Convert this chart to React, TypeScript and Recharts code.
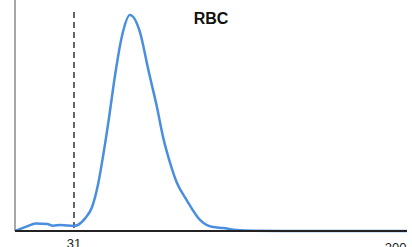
import React from 'react';
import { LineChart, Line, XAxis, YAxis, ReferenceLine } from 'recharts';

const sizes = [0, 6, 11, 17, 20, 24, 31, 33, 37, 40.5, 43.6, 46.2, 49.4, 52.5, 56.1, 60.4, 65.7, 70, 74.5, 78, 81.5, 85, 90.2, 97.2, 104, 109.3, 116.5, 125, 150, 180, 206];
const counts = [0, 1.9, 3.3, 3.0, 2.3, 2.6, 2.2, 2.6, 5.6, 10.4, 20, 32, 49, 67, 84, 93.5, 86, 70, 54, 40, 29.5, 21, 13.4, 4.8, 1.7, 1.3, 0.4, 0.1, 0, 0, 0];
const xTicks = [31, 200];
const title = 'RBC';
const cutoff = 31;

const data = sizes.map((s, i) => ({ size: s, count: counts[i] }));

const Tick = (props: any) => {
  const { x, y, payload } = props;
  const extra = payload.value === 200 ? 4 : 0;
  return (
    <text x={x} y={y + extra} dy="0.71em" textAnchor="middle" fontSize={13} fill="#222" fontFamily="Liberation Sans, Arial, sans-serif">
      {payload.value}
    </text>
  );
};

export default function App() {
  return (
    <div style={{ position: 'absolute', left: 0, top: 0, width: 412, height: 247, background: '#fff' }}>
      <LineChart width={412} height={247} data={data} margin={{ top: 0, right: 5, left: 14, bottom: 0 }}>
        <XAxis
          dataKey="size"
          type="number"
          domain={[0, 206]}
          ticks={xTicks}
          tickLine={false}
          axisLine={{ stroke: '#222', strokeWidth: 2 }}
          tick={<Tick />}
          height={16}
          tickSize={6}
          tickMargin={2}
        />
        <YAxis type="number" domain={[0, 100]} width={1} tick={false} tickLine={false} axisLine={false} />
        <ReferenceLine x={0} stroke="#888" strokeWidth={1.5} />
        <ReferenceLine
          segment={[{ x: cutoff, y: 94.8 }, { x: cutoff, y: 0 }]}
          stroke="#333"
          strokeWidth={1.5}
          strokeDasharray="6 4"
        />
        <Line
          type="monotone"
          dataKey="count"
          stroke="#4a8ee0"
          strokeWidth={2.5}
          dot={false}
          isAnimationActive={false}
        />
        <text x={211} y={24} textAnchor="middle" fontSize={16} fontWeight="bold" fill="#111" fontFamily="Liberation Sans, Arial, sans-serif">
          {title}
        </text>
      </LineChart>
    </div>
  );
}
